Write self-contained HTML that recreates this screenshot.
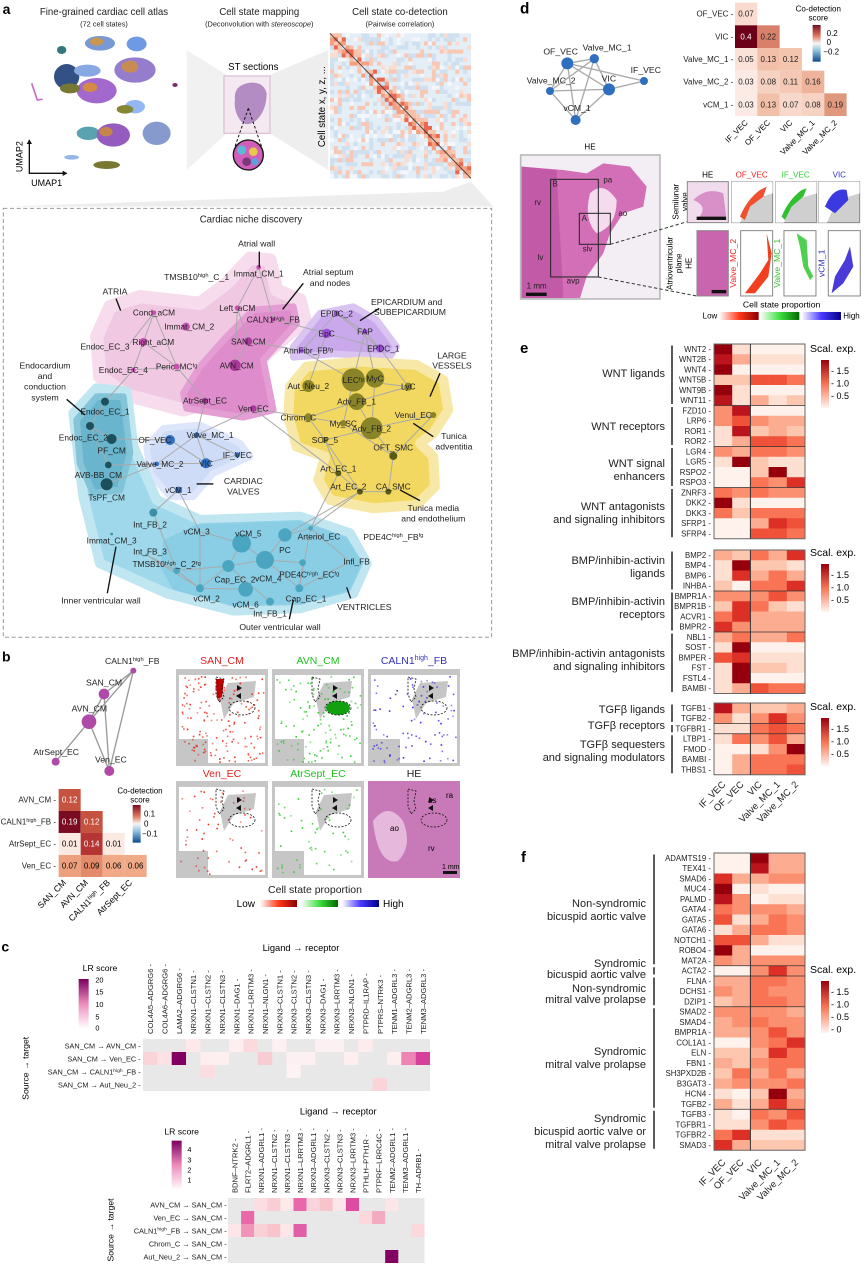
<!DOCTYPE html>
<html><head><meta charset="utf-8"><style>
html,body{margin:0;padding:0;background:#fff}
svg{display:block;font-family:"Liberation Sans",Arial,sans-serif}
</style></head><body>
<svg id="s" width="865" height="1270" viewBox="0 0 865 1270" xmlns="http://www.w3.org/2000/svg">
<rect width="865" height="1270" fill="#fff"/>

<!-- ===== PANEL A TOP ===== -->
<g transform="scale(0.3333)">
  <text x="8" y="42" font-size="42" font-weight="bold">a</text>
  <text x="312" y="45" font-size="29" text-anchor="middle" fill="#222">Fine-grained cardiac cell atlas</text>
  <text x="312" y="80" font-size="22" text-anchor="middle" fill="#222">(72 cell states)</text>
  <text x="778" y="45" font-size="29" text-anchor="middle" fill="#222">Cell state mapping</text>
  <text x="778" y="80" font-size="22" text-anchor="middle" fill="#222">(Deconvolution with <tspan font-style="italic">stereoscope</tspan>)</text>
  <text x="1200" y="45" font-size="29" text-anchor="middle" fill="#222">Cell state co-detection</text>
  <text x="1200" y="80" font-size="22" text-anchor="middle" fill="#222">(Pairwise correlation)</text>
  <g opacity="0.9">
  <ellipse cx="300" cy="130" rx="45" ry="22" fill="#6a8fd0"/><ellipse cx="290" cy="125" rx="20" ry="12" fill="#c58a3a"/>
  <ellipse cx="410" cy="132" rx="30" ry="22" fill="#5f8fe0"/>
  <ellipse cx="185" cy="150" rx="14" ry="12" fill="#1e6a70"/>
  <ellipse cx="405" cy="210" rx="62" ry="38" fill="#8a6fc8"/><ellipse cx="390" cy="200" rx="25" ry="18" fill="#c08040"/>
  <ellipse cx="200" cy="230" rx="38" ry="38" fill="#1d3f78"/>
  <ellipse cx="262" cy="212" rx="40" ry="18" fill="#7aa0e0"/>
  <ellipse cx="290" cy="272" rx="60" ry="38" fill="#9a58c8"/><ellipse cx="270" cy="262" rx="22" ry="14" fill="#d08030"/>
  <ellipse cx="210" cy="265" rx="30" ry="15" fill="#6a6a20"/>
  <ellipse cx="405" cy="320" rx="30" ry="20" fill="#8ab0f0"/>
  <ellipse cx="375" cy="328" rx="25" ry="13" fill="#7a7a22"/>
  <ellipse cx="265" cy="400" rx="35" ry="20" fill="#4a98a8"/>
  <ellipse cx="340" cy="405" rx="50" ry="35" fill="#8a4ab8"/><ellipse cx="318" cy="395" rx="20" ry="14" fill="#c07838"/>
  <ellipse cx="470" cy="400" rx="42" ry="35" fill="#7a90c8"/>
  <ellipse cx="320" cy="495" rx="40" ry="12" fill="#6a6a1c"/>
  <ellipse cx="215" cy="472" rx="22" ry="7" fill="#8ab0e0"/>
  <ellipse cx="525" cy="255" rx="8" ry="6" fill="#6a1a5a"/>
  <path d="M95 250 L112 300 L128 298" stroke="#c060c0" stroke-width="5" fill="none"/>
  </g>
  <path d="M88 420 L88 520 L200 520" stroke="#111" stroke-width="4" fill="none"/>
  <path d="M80 432 L88 418 L96 432 Z M188 512 L202 520 L188 528Z" fill="#111"/>
  <text x="68" y="470" font-size="27" text-anchor="middle" transform="rotate(-90 68 470)">UMAP2</text>
  <text x="140" y="558" font-size="27" text-anchor="middle">UMAP1</text>
  <polygon points="560,150 680,225 680,400 560,510" fill="#f1f1f1"/>
  <polygon points="985,150 810,225 810,400 985,510" fill="#eeeeee"/>
  <rect x="672" y="228" width="138" height="172" fill="#f4e8f1" stroke="#dcc4d6" stroke-width="4"/>
  <path d="M705 300 Q700 260 740 250 Q790 240 800 280 Q800 330 770 360 Q740 385 720 360 Q700 330 705 300Z" fill="#b48cc4"/>
  <text x="760" y="210" font-size="29" text-anchor="middle">ST sections</text>
  <path d="M745 325 L705 440 M745 325 L785 440" stroke="#111" stroke-width="3" stroke-dasharray="8,6"/>
  <circle cx="745" cy="465" r="45" fill="#cf5fb8" stroke="#111" stroke-width="4"/>
  <circle cx="725" cy="450" r="14" fill="#5fb8d8"/><circle cx="760" cy="455" r="13" fill="#e8c84a"/><circle cx="740" cy="485" r="13" fill="#7a3a7a"/><circle cx="765" cy="485" r="11" fill="#5fa0d8"/>
  <rect x="990" y="100" width="423" height="435" fill="#e4eef7"/>
  <g id="corr"></g>
  <line x1="990" y1="100" x2="1413" y2="535" stroke="#444" stroke-width="3"/>
  <text x="975" y="320" font-size="29" text-anchor="middle" transform="rotate(-90 975 320)">Cell state x, y, z, ...</text>
  <polygon points="10,620 1330,575 1413,545 1480,620" fill="#ededed"/>
</g>

<!-- ===== PANEL A NETWORK ===== -->
<g transform="translate(0,180) scale(0.3333)" id="net">
  <rect x="10" y="85" width="1465" height="1287" fill="none" stroke="#999" stroke-width="3" stroke-dasharray="12,8"/>
  <text x="753" y="128" font-size="29" text-anchor="middle" fill="#222">Cardiac niche discovery</text>
  <g stroke-linejoin="round">
  <path d="M290,470 L330,380 L420,350 L600,370 L680,310 L750,235 L810,240 L830,330 L900,360 L915,420 L800,520 L700,650 L550,690 L380,645 L300,590 Z" fill="#f0c8e2" stroke="#f6dcec" stroke-width="40"/>
  <path d="M550,640 L600,560 L680,470 L760,390 L880,380 L890,430 L790,540 L820,690 L730,712 L560,685 Z" fill="#de8ccc" stroke="#e49ed4" stroke-width="20"/>
  <path d="M880,500 L960,400 L1060,380 L1130,420 L1190,500 L1170,530 L1000,522 L880,532 Z" fill="#c9a8ec" stroke="#dac4f2" stroke-width="20"/>
  <path d="M870,620 L920,560 L1080,545 L1250,555 L1330,600 L1345,690 L1300,760 L1260,790 L1300,830 L1305,920 L1250,975 L1120,985 L990,960 L955,900 L975,830 L890,800 L865,710 Z" fill="#f2d860" stroke="#f8e8a8" stroke-width="30"/>
  <path d="M440,800 L490,745 L600,735 L720,790 L750,830 L640,880 L580,950 L510,950 L450,880 Z" fill="#cfdcf8" stroke="#dde6fa" stroke-width="20"/>
  <path d="M220,700 L290,625 L380,635 L400,800 L470,960 L600,1020 L900,1010 L1050,1060 L1100,1150 L1060,1240 L900,1285 L700,1292 L500,1240 L300,1150 L250,950 Z" fill="#9ed8ea" stroke="#c0e6f2" stroke-width="30"/>
  <path d="M230,720 L290,650 L370,650 L390,820 L360,930 L280,940 L240,850 Z" fill="#5fb0c8" stroke="#7cc0d4" stroke-width="20" opacity="0.85"/>
  <path d="M490,1080 L600,1030 L900,1020 L1040,1070 L1090,1150 L1050,1235 L900,1275 L700,1280 L520,1230 L480,1160 Z" fill="#84cce4" opacity="0.8"/>
  </g>
  <g id="edges" stroke="#aaa" stroke-width="3"></g>
  <g id="nodes"></g>
  <g font-size="26" fill="#222" text-anchor="middle">
    <text x="770" y="200">Atrial wall</text><line x1="778" y1="215" x2="778" y2="262" stroke="#111" stroke-width="4"/>
    <text x="590" y="300">TMSB10<tspan font-size="17" dy="-9">high</tspan><tspan dy="9">_C_1</tspan></text>
    <text x="985" y="285">Atrial septum</text><text x="990" y="318">and nodes</text>
    <line x1="910" y1="310" x2="848" y2="388" stroke="#111" stroke-width="4"/>
    <text x="345" y="344">ATRIA</text><line x1="348" y1="356" x2="362" y2="392" stroke="#111" stroke-width="4"/>
    <text x="1220" y="375">EPICARDIUM and</text><text x="1230" y="405">SUBEPICARDIUM</text>
    <line x1="1138" y1="385" x2="1080" y2="422" stroke="#111" stroke-width="4"/>
    <text x="135" y="565">Endocardium</text><text x="135" y="597">and</text><text x="135" y="629">conduction</text><text x="135" y="661">system</text>
    <line x1="200" y1="658" x2="255" y2="705" stroke="#111" stroke-width="4"/>
    <text x="730" y="912">CARDIAC</text><text x="730" y="943">VALVES</text><line x1="590" y1="912" x2="640" y2="912" stroke="#111" stroke-width="4"/>
    <text x="1356" y="536">LARGE</text><text x="1356" y="566">VESSELS</text>
    <line x1="1320" y1="580" x2="1290" y2="650" stroke="#111" stroke-width="4"/>
    <text x="1362" y="777">Tunica</text><text x="1362" y="808">adventitia</text><line x1="1240" y1="730" x2="1300" y2="770" stroke="#111" stroke-width="4"/>
    <text x="1300" y="993">Tunica media</text><text x="1300" y="1025">and endothelium</text><line x1="1200" y1="930" x2="1260" y2="962" stroke="#111" stroke-width="4"/>
    <text x="1180" y="1080">PDE4C<tspan font-size="17" dy="-9">high</tspan><tspan dy="9">_FB</tspan><tspan font-size="17" dy="-9">fg</tspan></text>
    <text x="303" y="1270">Inner ventricular wall</text><line x1="348" y1="1100" x2="322" y2="1240" stroke="#111" stroke-width="4"/>
    <text x="840" y="1350">Outer ventricular wall</text><line x1="880" y1="1260" x2="868" y2="1318" stroke="#111" stroke-width="4"/>
    <text x="1093" y="1290">VENTRICLES</text><line x1="1040" y1="1222" x2="1052" y2="1255" stroke="#111" stroke-width="4"/>
  </g>
</g>

<!-- ===== PANEL B ===== -->
<g transform="translate(0,645) scale(0.3333)">
  <text x="6" y="50" font-size="42" font-weight="bold">b</text>
  <g stroke="#999" stroke-width="4">
    <line x1="400" y1="77" x2="312" y2="147"/><line x1="400" y1="77" x2="267" y2="230"/><line x1="400" y1="77" x2="328" y2="378"/>
    <line x1="312" y1="147" x2="267" y2="230"/><line x1="312" y1="147" x2="328" y2="378"/><line x1="267" y1="230" x2="167" y2="350"/><line x1="267" y1="230" x2="328" y2="378"/>
  </g>
  <g fill="#b04aa8"><circle cx="400" cy="77" r="9"/><circle cx="312" cy="147" r="16"/><circle cx="267" cy="230" r="22"/><circle cx="167" cy="350" r="12"/><circle cx="328" cy="378" r="15"/></g>
  <g font-size="26" fill="#222">
    <text x="315" y="57">CALN1<tspan font-size="17" dy="-9">high</tspan><tspan dy="9">_FB</tspan></text>
    <text x="258" y="122">SAN_CM</text><text x="215" y="200">AVN_CM</text><text x="100" y="330">AtrSept_EC</text><text x="285" y="352">Ven_EC</text>
  </g>
  <rect x="176" y="432" width="66" height="66" fill="#c55340"/>
  <rect x="176" y="498" width="66" height="66" fill="#7a0c22"/><rect x="242" y="498" width="66" height="66" fill="#c55340"/>
  <rect x="176" y="564" width="66" height="66" fill="#fbe9e2"/><rect x="242" y="564" width="66" height="66" fill="#b53535"/><rect x="308" y="564" width="66" height="66" fill="#fbe9e2"/>
  <rect x="176" y="630" width="66" height="66" fill="#eda07e"/><rect x="242" y="630" width="66" height="66" fill="#e48a6a"/><rect x="308" y="630" width="66" height="66" fill="#f0aa88"/><rect x="374" y="630" width="66" height="66" fill="#f0aa88"/>
  <g font-size="24" text-anchor="middle">
    <text x="209" y="473" fill="#fff">0.12</text>
    <text x="209" y="539" fill="#fff">0.19</text><text x="275" y="539" fill="#fff">0.12</text>
    <text x="209" y="605">0.01</text><text x="275" y="605" fill="#fff">0.14</text><text x="341" y="605">0.01</text>
    <text x="209" y="671">0.07</text><text x="275" y="671">0.09</text><text x="341" y="671">0.06</text><text x="407" y="671">0.06</text>
  </g>
  <g font-size="24" text-anchor="end" fill="#222">
    <text x="168" y="473">AVN_CM -</text><text x="168" y="539">CALN1<tspan font-size="16" dy="-8">high</tspan><tspan dy="8">_FB -</tspan></text>
    <text x="168" y="605">AtrSept_EC -</text><text x="168" y="671">Ven_EC -</text>
  </g>
  <text x="420" y="445" font-size="24" text-anchor="middle">Co-detection</text>
  <text x="420" y="472" font-size="24" text-anchor="middle">score</text>
  <defs>
    <linearGradient id="rb" x1="0" y1="0" x2="0" y2="1"><stop offset="0" stop-color="#7a0c22"/><stop offset="0.3" stop-color="#e07860"/><stop offset="0.5" stop-color="#f8f4f2"/><stop offset="0.7" stop-color="#8fc0de"/><stop offset="1" stop-color="#0c4a8a"/></linearGradient>
    <linearGradient id="rd" x1="0" y1="1" x2="0" y2="0"><stop offset="0" stop-color="#fff5f0"/><stop offset="0.5" stop-color="#f87454"/><stop offset="1" stop-color="#9a000d"/></linearGradient>
    <linearGradient id="pk" x1="0" y1="1" x2="0" y2="0"><stop offset="0" stop-color="#fff"/><stop offset="0.5" stop-color="#ee8cbc"/><stop offset="1" stop-color="#7a0060"/></linearGradient>
    <linearGradient id="gr" x1="0" x2="1"><stop offset="0" stop-color="#fff"/><stop offset="0.5" stop-color="#3fe03f"/><stop offset="1" stop-color="#006a00"/></linearGradient>
    <linearGradient id="rr" x1="0" x2="1"><stop offset="0" stop-color="#fff"/><stop offset="0.5" stop-color="#ff3a1a"/><stop offset="1" stop-color="#8a0000"/></linearGradient>
    <linearGradient id="bb" x1="0" x2="1"><stop offset="0" stop-color="#fff"/><stop offset="0.5" stop-color="#4a3aff"/><stop offset="1" stop-color="#00008a"/></linearGradient>
  </defs>
  <rect x="398" y="480" width="24" height="113" fill="url(#rb)"/>
  <g font-size="24"><text x="432" y="515">0.1</text><text x="432" y="545">0</text><text x="426" y="575">−0.1</text></g>
  <g font-size="26" text-anchor="end">
    <text x="200" y="715" transform="rotate(-45 200 715)">SAN_CM</text><text x="266" y="715" transform="rotate(-45 266 715)">AVN_CM</text>
    <text x="332" y="715" transform="rotate(-45 332 715)">CALN1<tspan font-size="17" dy="-9">high</tspan><tspan dy="9">_FB</tspan></text>
    <text x="398" y="715" transform="rotate(-45 398 715)">AtrSept_EC</text>
  </g>
</g>
<g id="spat"></g>
<g font-size="10.5" text-anchor="middle">
  <text x="222" y="664" fill="#e02020">SAN_CM</text><text x="318" y="664" fill="#20c020">AVN_CM</text><text x="414" y="664" fill="#3030c0">CALN1<tspan font-size="7" dy="-4">high</tspan><tspan dy="4">_FB</tspan></text>
  <text x="222" y="777" fill="#e02020">Ven_EC</text><text x="318" y="777" fill="#20c020">AtrSept_EC</text><text x="414" y="777" fill="#222">HE</text>
  <text x="315" y="893" fill="#222">Cell state proportion</text>
</g>
<rect x="260" y="900" width="37" height="7" fill="url(#rr)"/><rect x="301" y="900" width="37" height="7" fill="url(#gr)"/><rect x="342" y="900" width="37" height="7" fill="url(#bb)"/>
<text x="255" y="907" font-size="10" text-anchor="end">Low</text><text x="383" y="907" font-size="10">High</text>

<!-- ===== PANEL C ===== -->
<g transform="translate(0,870) scale(0.3333)">
  <text x="4" y="245" font-size="42" font-weight="bold">c</text>
  <text x="903" y="243" font-size="28" text-anchor="middle">Ligand → receptor</text>
  <text x="300" y="303" font-size="26" text-anchor="middle">LR score</text>
  <rect x="236" y="327" width="30" height="148" fill="url(#pk)"/>
  <g font-size="22"><text x="286" y="337">20</text><text x="286" y="374">15</text><text x="286" y="411">10</text><text x="286" y="448">5</text><text x="286" y="482">0</text></g>
  <text x="85" y="595" font-size="26" text-anchor="middle" transform="rotate(-90 85 595)">Source → target</text>
  <g font-size="22" text-anchor="end" fill="#222">
    <text x="422" y="536">SAN_CM → AVN_CM -</text><text x="422" y="575">SAN_CM → Ven_EC -</text>
    <text x="422" y="614">SAN_CM → CALN1<tspan font-size="15" dy="-8">high</tspan><tspan dy="8">_FB -</tspan></text><text x="422" y="653">SAN_CM → Aut_Neu_2 -</text>
  </g>
  <text x="1015" y="733" font-size="28" text-anchor="middle">Ligand → receptor</text>
  <text x="545" y="793" font-size="26" text-anchor="middle">LR score</text>
  <rect x="515" y="812" width="30" height="148" fill="url(#pk)"/>
  <g font-size="22"><text x="562" y="846">4</text><text x="562" y="877">3</text><text x="562" y="907">2</text><text x="562" y="937">1</text></g>
  <text x="340" y="1080" font-size="26" text-anchor="middle" transform="rotate(-90 340 1080)">Source → target</text>
  <g font-size="22" text-anchor="end" fill="#222">
    <text x="680" y="1012">AVN_CM → SAN_CM -</text><text x="680" y="1051">Ven_EC → SAN_CM -</text>
    <text x="680" y="1090">CALN1<tspan font-size="15" dy="-8">high</tspan><tspan dy="8">_FB → SAN_CM -</tspan></text>
    <text x="680" y="1129">Chrom_C → SAN_CM -</text><text x="680" y="1168">Aut_Neu_2 → SAN_CM -</text>
  </g>
</g>
<g id="lr"></g>

<!-- ===== PANEL D ===== -->
<g transform="translate(430,0) scale(0.3333)">
  <text x="270" y="40" font-size="46" font-weight="bold">d</text>
  <g stroke="#aaa" stroke-width="4">
    <line x1="412" y1="190" x2="493" y2="176"/><line x1="412" y1="190" x2="360" y2="273"/><line x1="412" y1="190" x2="537" y2="268"/><line x1="412" y1="190" x2="437" y2="360"/>
    <line x1="493" y1="176" x2="360" y2="273"/><line x1="493" y1="176" x2="537" y2="268"/><line x1="493" y1="176" x2="437" y2="360"/>
    <line x1="360" y1="273" x2="537" y2="268"/><line x1="360" y1="273" x2="437" y2="360"/><line x1="537" y1="268" x2="437" y2="360"/>
    <line x1="537" y1="268" x2="642" y2="243"/><line x1="412" y1="190" x2="642" y2="243"/>
  </g>
  <g fill="#2f6fc0"><circle cx="412" cy="190" r="18"/><circle cx="493" cy="176" r="14"/><circle cx="642" cy="243" r="12"/><circle cx="360" cy="273" r="12"/><circle cx="537" cy="268" r="18"/><circle cx="437" cy="360" r="15"/></g>
  <g font-size="26" fill="#222"><text x="340" y="163">OF_VEC</text><text x="458" y="152">Valve_MC_1</text><text x="602" y="219">IF_VEC</text><text x="290" y="250">Valve_MC_2</text><text x="515" y="245">VIC</text><text x="400" y="333">vCM_1</text></g>
  <rect x="915" y="8" width="67" height="68" fill="#f9dccf"/>
  <rect x="915" y="76" width="67" height="68" fill="#6b0018"/><rect x="982" y="76" width="67" height="68" fill="#d8806a"/>
  <rect x="915" y="144" width="67" height="68" fill="#fae2d8"/><rect x="982" y="144" width="67" height="68" fill="#f2bfa8"/><rect x="1049" y="144" width="67" height="68" fill="#f3c4ae"/>
  <rect x="915" y="212" width="67" height="68" fill="#fcebe4"/><rect x="982" y="212" width="67" height="68" fill="#f6d2c2"/><rect x="1049" y="212" width="67" height="68" fill="#f4c8b4"/><rect x="1116" y="212" width="67" height="68" fill="#eeb39a"/>
  <rect x="915" y="280" width="67" height="68" fill="#fcebe4"/><rect x="982" y="280" width="67" height="68" fill="#f2bfa8"/><rect x="1049" y="280" width="67" height="68" fill="#f7d8ca"/><rect x="1116" y="280" width="67" height="68" fill="#f6d2c2"/><rect x="1183" y="280" width="67" height="68" fill="#e0987c"/>
  <g font-size="24" text-anchor="middle" fill="#222">
    <text x="948" y="50">0.07</text>
    <text x="948" y="118" fill="#fff">0.4</text><text x="1015" y="118">0.22</text>
    <text x="948" y="186">0.05</text><text x="1015" y="186">0.13</text><text x="1082" y="186">0.12</text>
    <text x="948" y="254">0.03</text><text x="1015" y="254">0.08</text><text x="1082" y="254">0.11</text><text x="1149" y="254">0.16</text>
    <text x="948" y="322">0.03</text><text x="1015" y="322">0.13</text><text x="1082" y="322">0.07</text><text x="1149" y="322">0.08</text><text x="1216" y="322">0.19</text>
  </g>
  <g font-size="24" text-anchor="end" fill="#222"><text x="910" y="50">OF_VEC -</text><text x="910" y="118">VIC -</text><text x="910" y="186">Valve_MC_1 -</text><text x="910" y="254">Valve_MC_2 -</text><text x="910" y="322">vCM_1 -</text></g>
  <g font-size="24" text-anchor="end"><text x="955" y="370" transform="rotate(-45 955 370)">IF_VEC</text><text x="1022" y="370" transform="rotate(-45 1022 370)">OF_VEC</text><text x="1089" y="370" transform="rotate(-45 1089 370)">VIC</text><text x="1156" y="370" transform="rotate(-45 1156 370)">Valve_MC_1</text><text x="1223" y="370" transform="rotate(-45 1223 370)">Valve_MC_2</text></g>
  <text x="1165" y="35" font-size="24" text-anchor="middle">Co-detection</text><text x="1165" y="62" font-size="24" text-anchor="middle">score</text>
  <rect x="1148" y="75" width="24" height="110" fill="url(#rb)"/>
  <g font-size="24"><text x="1190" y="108">0.2</text><text x="1190" y="135">0</text><text x="1180" y="164">−0.2</text></g>
  <text x="480" y="448" font-size="24" text-anchor="middle">HE</text>
  <rect x="272" y="465" width="418" height="432" fill="#f2eef3" stroke="#bbb" stroke-width="5"/>
  <path d="M275 500 L400 510 L470 520 L520 490 L600 500 L650 560 L640 620 L580 640 L540 700 L520 760 L470 830 L450 894 L275 894 Z" fill="#d36fb6"/>
  <path d="M275 500 L380 510 L400 894 L275 894Z" fill="#c35aa8"/>
  <path d="M480 580 Q520 540 560 600 Q560 680 500 700 Q460 660 480 580Z" fill="#f4dcee"/>
  <rect x="362" y="538" width="143" height="293" fill="none" stroke="#222" stroke-width="3"/>
  <rect x="448" y="640" width="93" height="93" fill="none" stroke="#222" stroke-width="3"/>
  <g font-size="24" fill="#222"><text x="520" y="548">pa</text><text x="565" y="648">ao</text><text x="313" y="615">rv</text><text x="323" y="780">lv</text><text x="458" y="755">slv</text><text x="410" y="850">avp</text><text x="367" y="560">B</text><text x="455" y="663">A</text><text x="290" y="865">1 mm</text></g>
  <rect x="288" y="878" width="62" height="10" fill="#111"/>
  <path d="M541 733 L772 665 M505 831 L800 888" stroke="#333" stroke-width="3" stroke-dasharray="10,7"/>
  <g font-size="24" text-anchor="middle"><text x="833" y="532">HE</text><text x="965" y="532" fill="#ee2020">OF_VEC</text><text x="1097" y="532" fill="#30d030">IF_VEC</text><text x="1228" y="532" fill="#3030c0">VIC</text></g>
  <text x="745" y="605" font-size="24" text-anchor="middle" transform="rotate(-90 745 605)">Semilunar</text>
  <text x="772" y="605" font-size="24" text-anchor="middle" transform="rotate(-90 772 605)">valve</text>
  <text x="728" y="790" font-size="24" text-anchor="middle" transform="rotate(-90 728 790)">Atrioventricular</text>
  <text x="755" y="790" font-size="24" text-anchor="middle" transform="rotate(-90 755 790)">plane</text>
  <text x="785" y="790" font-size="24" text-anchor="middle" transform="rotate(-90 785 790)">HE</text>
  <rect x="772" y="545" width="123" height="123" fill="#f0dcec" stroke="#888" stroke-width="3"/>
  <path d="M790 600 Q830 560 880 580 L890 660 L800 660 Q840 620 790 600Z" fill="#d890c8"/>
  <rect x="800" y="650" width="88" height="10" fill="#111"/>
  <rect x="905" y="545" width="123" height="123" fill="#cfcfcf" stroke="#888" stroke-width="3"/>
  <path d="M905 545 L1028 545 L1028 580 L960 600 L930 668 L905 668Z" fill="#fff"/>
  <path d="M930 650 Q950 600 990 570 L1010 560 L1000 590 L960 620 L945 660Z" fill="#f05030"/>
  <rect x="1037" y="545" width="123" height="123" fill="#cfcfcf" stroke="#888" stroke-width="3"/>
  <path d="M1037 545 L1160 545 L1160 580 L1092 600 L1062 668 L1037 668Z" fill="#fff"/>
  <path d="M1055 650 Q1075 600 1115 570 L1130 565 L1120 590 L1085 620 L1065 660Z" fill="#30c030"/>
  <rect x="1166" y="545" width="123" height="123" fill="#cfcfcf" stroke="#888" stroke-width="3"/>
  <path d="M1166 545 L1289 545 L1289 580 L1221 600 L1191 668 L1166 668Z" fill="#fff"/>
  <path d="M1185 620 Q1210 560 1250 570 L1255 600 L1215 640Z" fill="#3a3ae0"/>
  <rect x="801" y="692" width="94" height="196" fill="#c865ae" stroke="#888" stroke-width="3"/>
  <rect x="845" y="870" width="44" height="10" fill="#111"/>
  <rect x="932" y="692" width="96" height="196" fill="#fff" stroke="#888" stroke-width="3"/>
  <path d="M1010 700 L1015 780 L990 820 L960 860 L945 880 L975 880 L1015 830 L1025 760Z" fill="#f04020"/>
  <text x="918" y="790" font-size="26" fill="#ee2020" text-anchor="middle" transform="rotate(-90 918 790)">Valve_MC_2</text>
  <rect x="1062" y="692" width="96" height="196" fill="#fff" stroke="#888" stroke-width="3"/>
  <path d="M1100 700 L1130 720 L1135 800 L1150 830 L1140 840 L1120 800 L1110 740Z" fill="#50d050"/>
  <text x="1050" y="790" font-size="26" fill="#30c030" text-anchor="middle" transform="rotate(-90 1050 790)">Valve_MC_1</text>
  <rect x="1195" y="692" width="96" height="196" fill="#fff" stroke="#888" stroke-width="3"/>
  <path d="M1260 740 L1270 800 L1240 850 L1205 880 L1215 830 L1245 780Z" fill="#4a3ad8"/>
  <text x="1183" y="790" font-size="26" fill="#3030c0" text-anchor="middle" transform="rotate(-90 1183 790)">vCM_1</text>
  <text x="1055" y="922" font-size="26" text-anchor="middle">Cell state proportion</text>
  <text x="840" y="955" font-size="24" text-anchor="middle">Low</text>
  <rect x="868" y="936" width="118" height="24" fill="url(#rr)"/><rect x="990" y="936" width="118" height="24" fill="url(#gr)"/><rect x="1115" y="936" width="118" height="24" fill="url(#bb)"/>
  <text x="1240" y="955" font-size="24">High</text>
</g>

<!-- ===== PANELS E/F ===== -->
<text x="520" y="353" font-size="15" font-weight="bold">e</text>
<text x="521" y="862" font-size="15" font-weight="bold">f</text>
<g id="ef"></g>
<g font-size="11" text-anchor="end" fill="#222">
  <text x="665" y="377">WNT ligands</text>
  <text x="665" y="430">WNT receptors</text>
  <text x="665" y="467">WNT signal</text><text x="665" y="480">enhancers</text>
  <text x="665" y="510">WNT antagonists</text><text x="665" y="523">and signaling inhibitors</text>
  <text x="665" y="564">BMP/inhibin-activin</text><text x="665" y="577">ligands</text>
  <text x="665" y="605">BMP/inhibin-activin</text><text x="665" y="618">receptors</text>
  <text x="665" y="657">BMP/inhibin-activin antagonists</text><text x="665" y="670">and signaling inhibitors</text>
  <text x="665" y="713">TGFβ ligands</text>
  <text x="665" y="729">TGFβ receptors</text>
  <text x="665" y="748">TGFβ sequesters</text><text x="665" y="761">and signaling modulators</text>
  <text x="646" y="907">Non-syndromic</text><text x="646" y="920">bicuspid aortic valve</text>
  <text x="646" y="967">Syndromic</text><text x="646" y="978">bicuspid aortic valve</text>
  <text x="646" y="992">Non-syndromic</text><text x="646" y="1003">mitral valve prolapse</text>
  <text x="646" y="1055">Syndromic</text><text x="646" y="1068">mitral valve prolapse</text>
  <text x="646" y="1122">Syndromic</text><text x="646" y="1135">bicuspid aortic valve or</text><text x="646" y="1148">mitral valve prolapse</text>
</g>
</svg>
<script>
(function(){
var NS="http://www.w3.org/2000/svg";
function el(t,a,p){var e=document.createElementNS(NS,t);for(var k in a)e.setAttribute(k,a[k]);(p||document.getElementById('s')).appendChild(e);return e;}
function txt(t,a,p){var e=el('text',a,p);e.textContent=t;return e;}
var seed=7;function rnd(){seed=(seed*16807)%2147483647;return (seed-1)/2147483646;}
var corr=document.getElementById('corr');var n=36,cs=423/n,chh=435/n;
for(var i=0;i<n;i++)for(var j=0;j<n;j++){var r=rnd();var c=null;
 var d=Math.abs(i-j);
 if(d<3&&rnd()<0.7)c=['#f4a080','#e86850','#f8c0a8'][Math.floor(rnd()*3)];
 else if(r<0.12)c='#f8c8b4';else if(r<0.2)c='#fbdccf';else if(r<0.45)c='#cfe0f0';else if(r<0.55)c='#f3f6fa';
 if(c)el('rect',{x:990+j*cs,y:100+i*chh,width:cs+0.5,height:chh+0.5,fill:c},corr);}
var N=[[776,262,7,'#c94fb5','Immat_CM_1',0,18],[712,384,8,'#c94fb5','Left_aCM',0,0],[462,398,7,'#c94fb5','Cond_aCM',0,0],[558,440,12,'#c94fb5','Immat_CM_2',10,0],
[820,418,6,'#a8399a','CALN1ʰⁱᵍʰ_FB',0,0],[745,484,12,'#a8399a','SAN_CM',0,0],[430,486,12,'#c94fb5','Right_aCM',30,0],[705,556,17,'#a8399a','AVN_CM',5,0],
[400,570,7,'#c94fb5','Endoc_EC_4',-30,0],[530,560,9,'#c94fb5','Peric_MCᶠᵍ',0,0],[615,662,9,'#a8399a','AtrSept_EC',0,0],[760,686,10,'#a8399a','Ven_EC',0,0],
[390,490,0,'#c94fb5','Endoc_EC_3',-75,10],
[1010,400,9,'#9a4fd6','EPDC_2',0,0],[980,460,14,'#9a4fd6','EpC',0,0],[1095,455,8,'#9a4fd6','FAP',0,0],[1140,505,12,'#9a4fd6','EPDC_1',10,0],[905,512,7,'#9a4fd6','AnnFibr_FBᶠᵍ',20,0],
[925,618,18,'#8a8428','Aut_Neu_2',0,0],[1060,600,35,'#8a8428','LECᶠᵍ',0,0],[1125,595,28,'#8a8428','MyC',0,0],[1225,620,12,'#8a8428','LyC',0,0],[1070,665,25,'#8a8428','Adv_FB_1',0,0],
[925,712,12,'#8a8428','Chrom_C',-30,0],[1030,730,10,'#8a8428','My_SC',0,0],[1115,745,33,'#8a8428','Adv_FB_2',0,0],[975,780,9,'#8a8428','SCP_5',0,0],[1300,705,9,'#8a8428','Venul_EC',-60,0],
[1180,828,12,'#5a5a18','OFT_SMC',0,-25],[1015,880,9,'#5a5a18','Art_EC_1',0,-15],[1080,935,9,'#5a5a18','Art_EC_2',-35,-15],[1165,935,9,'#5a5a18','CA_SMC',15,-15],
[315,665,12,'#1d4f5a','Endoc_EC_1',0,30],[270,738,12,'#1d4f5a','Endoc_EC_2',-20,35],[335,777,15,'#1d4f5a','PF_CM',0,35],[325,855,10,'#1d4f5a','AVB-BB_CM',-30,30],[320,913,18,'#1d4f5a','TsPF_CM',0,40],
[510,780,15,'#2e6fc4','OF_VEC',-45,0],[590,765,8,'#2e6fc4','Valve_MC_1',40,0],[712,825,8,'#2e6fc4','IF_VEC',0,0],[470,852,7,'#2e6fc4','Valve_MC_2',10,0],[618,850,15,'#2e6fc4','VIC',0,0],[535,930,10,'#2e6fc4','vCM_1',0,0],
[460,998,12,'#3a8fa8','Int_FB_2',-10,35],[335,1062,4,'#3a8fa8','Immat_CM_3',0,20],[600,1055,0,'#3a8fa8','vCM_3',-10,0],[725,1090,28,'#4aa6c0','vCM_5',20,-30],[855,1065,20,'#4aa6c0','PC',0,45],[932,1045,7,'#4aa6c0','Arteriol_EC',25,25],
[795,1140,27,'#4aa6c0','vCM_4',10,55],[685,1158,18,'#4aa6c0','Cap_EC_2',20,40],[908,1148,10,'#4aa6c0','PDE4Cʰⁱᵍʰ_ECᶠᵍ',20,35],[530,1172,10,'#4aa6c0','TMSB10ʰⁱᵍʰ_C_2ᶠᵍ',-30,-20],[600,1225,12,'#4aa6c0','vCM_2',20,30],
[737,1228,22,'#4aa6c0','vCM_6',0,45],[898,1225,12,'#4aa6c0','Cap_EC_1',20,30],[810,1265,12,'#4aa6c0','Int_FB_1',0,35],[440,1125,4,'#4aa6c0','Int_FB_3',10,-10],[1050,1145,0,'#4aa6c0','Infl_FB',20,0]];
var eg=document.getElementById('edges'),ng=document.getElementById('nodes');
for(var i=0;i<N.length;i++)for(var j=i+1;j<N.length;j++){var dx=N[i][0]-N[j][0],dy=N[i][1]-N[j][1];var dd=Math.sqrt(dx*dx+dy*dy);
 if(dd<190&&rnd()<0.55)el('line',{x1:N[i][0],y1:N[i][1],x2:N[j][0],y2:N[j][1]},eg);}
el('line',{x1:760,y1:686,x2:1015,y2:880},eg);el('line',{x1:535,y1:930,x2:460,y2:998},eg);el('line',{x1:855,y1:1065,x2:1080,y2:935},eg);
N.forEach(function(d){if(d[2]>0)el('circle',{cx:d[0],cy:d[1],r:d[2],fill:d[3]},ng);
 txt(d[4],{x:d[0]+d[5],y:d[1]+d[6]+9,'font-size':25,'text-anchor':'middle',fill:'#222'},ng);});
var sp=document.getElementById('spat');
var cols=['#e8281a','#22c822','#3a2ae8'];
[[176,669,0],[272,669,1],[368,669,2],[176,781,0],[272,781,1],[368,781,3]].forEach(function(p,k){
 var x=p[0],y=p[1],w=92,h=97;
 el('rect',{x:x,y:y,width:w,height:h,fill:'#c6c6c6'},sp);
 if(p[2]==3){el('rect',{x:x,y:y,width:w,height:h,fill:'#c87ab8'},sp);
  el('path',{d:'M'+(x+5)+' '+(y+40)+' q15 -20 30 0 q10 25 -5 40 q-20 5 -25 -40z',fill:'#e6b8dc'},sp);
  txt('ao',{x:x+22,y:y+50,'font-size':8},sp);txt('rv',{x:x+60,y:y+70,'font-size':8},sp);txt('as',{x:x+60,y:y+22,'font-size':8},sp);txt('ra',{x:x+78,y:y+17,'font-size':8},sp);
  el('rect',{x:x+75,y:y+90,width:14,height:3,fill:'#111'},sp);txt('1 mm',{x:x+74,y:y+88,'font-size':7},sp);
 } else {
  el('path',{d:'M'+(x+3)+' '+(y+6)+' L'+(x+89)+' '+(y+6)+' L'+(x+89)+' '+(y+94)+' L'+(x+32)+' '+(y+94)+' L'+(x+32)+' '+(y+70)+' L'+(x+3)+' '+(y+70)+' Z',fill:'#fff'},sp);
  el('path',{d:'M'+(x+52)+' '+(y+14)+' L'+(x+80)+' '+(y+12)+' L'+(x+78)+' '+(y+28)+' L'+(x+58)+' '+(y+34)+' L'+(x+48)+' '+(y+50)+' L'+(x+44)+' '+(y+30)+' Z',fill:'#c6c6c6'},sp);
  var c=cols[p[2]];var m=[160,120,90,60,50][k]||80;
  for(var q=0;q<m;q++){el('rect',{x:x+4+rnd()*84,y:y+7+rnd()*86,width:1.6,height:1.6,fill:c,opacity:0.5+rnd()*0.5},sp);}
  if(k==0)el('path',{d:'M'+(x+40)+' '+(y+10)+' l8 0 l-2 18 l-5 2z',fill:'#c00000'},sp);
  if(k==1)el('ellipse',{cx:x+66,cy:y+39,rx:12,ry:7,fill:'#10a010'},sp);
 }
 el('path',{d:'M'+(x+40)+' '+(y+8)+' l8 2 l-2 10 l2 8 l-5 5 l-3 -8 z',fill:'none',stroke:'#111','stroke-width':0.8,'stroke-dasharray':'2,1.5'},sp);
 el('ellipse',{cx:x+66,cy:y+39,rx:13,ry:7,fill:'none',stroke:'#111','stroke-width':0.8,'stroke-dasharray':'2,1.5'},sp);
 el('path',{d:'M'+(x+61)+' '+(y+16)+' l5 3 l-5 3z M'+(x+65)+' '+(y+24)+' l-5 3 l5 3z',fill:'#111'},sp);
});
var lr=document.getElementById('lr');
function lrmap(x0,y0,cw,rh,nr,nc,cells,labels){
 el('rect',{x:x0,y:y0,width:cw*nc,height:rh*nr,fill:'#e8e8e8'},lr);
 cells.forEach(function(c){el('rect',{x:x0+c[1]*cw,y:y0+c[0]*rh,width:cw,height:rh,fill:c[2]},lr);});
 labels.forEach(function(l,i){var cx=x0+(i+0.5)*cw+3,yy=y0-5;txt(l+' -',{x:cx,y:yy,'font-size':7.6,'text-anchor':'start',transform:'rotate(-90 '+cx+' '+yy+')',fill:'#222'},lr);});
}
var L1=['COL4A5–ADGRG6','COL4A6–ADGRG6','LAMA2–ADGRG6','NRXN1–CLSTN1','NRXN1–CLSTN2','NRXN1–CLSTN3','NRXN1–DAG1','NRXN1–LRRTM3','NRXN1–NLGN1','NRXN3–CLSTN1','NRXN3–CLSTN2','NRXN3–CLSTN3','NRXN3–DAG1','NRXN3–LRRTM3','NRXN3–NLGN1','PTPRD–IL1RAP','PTPRS–NTRK3','TENM1–ADGRL3','TENM2–ADGRL3','TENM3–ADGRL3'];
lrmap(143,1039,14.35,13,4,20,[[0,3,'#fde8ea'],[0,6,'#fdeef0'],[0,7,'#fbdade'],[0,9,'#fdf0f2'],[0,12,'#fdf0f2'],[0,13,'#fdf0f2'],[0,15,'#fdecee'],
[1,0,'#f9d4d8'],[1,1,'#fbe2e4'],[1,2,'#820062'],[1,4,'#fdeef0'],[1,5,'#fdeef0'],[1,8,'#f8ccd2'],[1,10,'#fdf0f2'],[1,11,'#fdf0f2'],[1,14,'#fdeef0'],[1,17,'#fdeef0'],[1,18,'#ee84b4'],[1,19,'#d6409a'],
[2,4,'#fbdde0'],[2,10,'#fdf2f4'],[3,16,'#fad4d8']],L1);
var L2=['BDNF–NTRK2','FLRT2–ADGRL1','NRXN1–ADGRL1','NRXN1–CLSTN2','NRXN1–CLSTN3','NRXN1–LRRTM3','NRXN3–ADGRL1','NRXN3–CLSTN2','NRXN3–CLSTN3','NRXN3–LRRTM3','PTHLH–PTH1R','PTPRF–LRRC4C','TENM2–ADGRL1','TENM3–ADGRL1','TH–ADRB1'];
lrmap(228,1198,13.1,13,5,15,[[0,2,'#fbdde2'],[0,3,'#f9cdd4'],[0,4,'#fde8ea'],[0,5,'#e868aa'],[0,6,'#fad4da'],[0,7,'#f8c4cc'],[0,8,'#fde6ea'],[0,9,'#dc4ca0'],[0,12,'#fde6ea'],
[1,1,'#e868aa'],[1,10,'#fbd8dc'],[1,11,'#f4aac0'],[2,0,'#fde6ea'],[2,1,'#f094bc'],[2,2,'#f9d0d6'],[2,3,'#f8c4cc'],[2,4,'#fde6ea'],[2,5,'#e060a8'],[2,14,'#fbd8dc'],[4,12,'#820062']],L2);
var ef=document.getElementById('ef');
var P=['#fff2ec','#fee0d2','#fcc6af','#fcad91','#fb9070','#f87454','#ef5238','#dc2f26','#bc141c','#96000d'];
function hm(y0,names,vals,divs,lx){
 var x0=714,cw=18.2,rh=10.25,n=names.length;
 names.forEach(function(nm,i){vals[i].forEach(function(v,j){el('rect',{x:x0+j*cw,y:y0+i*rh,width:cw+0.3,height:rh+0.3,fill:P[v]},ef);});
  txt(nm+' -',{x:711,y:y0+i*rh+7.8,'font-size':7.8,'text-anchor':'end',fill:'#222'},ef);});
 el('rect',{x:x0,y:y0,width:cw*5,height:rh*n,fill:'none',stroke:'#666','stroke-width':1},ef);
 el('line',{x1:x0+2*cw,y1:y0,x2:x0+2*cw,y2:y0+rh*n,stroke:'#333','stroke-width':1},ef);
 var prev=0;divs.concat([n]).forEach(function(d){
  if(d<n)el('line',{x1:x0,y1:y0+d*rh,x2:x0+cw*5,y2:y0+d*rh,stroke:'#333','stroke-width':0.8},ef);
  el('line',{x1:lx,y1:y0+prev*rh+1.5,x2:lx,y2:y0+d*rh-1.5,stroke:'#222','stroke-width':1.5},ef);prev=d;});
}
function legend(y,ticks){txt('Scal. exp.',{x:810,y:y,'font-size':10.5},ef);el('rect',{x:821,y:y+8,width:8,height:ticks?52:48,fill:'url(#rd)'},ef);
 var t=ticks||['1.5','1.0','0.5'];t.forEach(function(s,i){txt('- '+s,{x:831,y:y+22+i*12.5,'font-size':9},ef);});}
function colLabels(y){['IF_VEC','OF_VEC','VIC','Valve_MC_1','Valve_MC_2'].forEach(function(s,j){var cx=714+(j+0.5)*18.2+3,yy=y;
 txt(s,{x:cx,y:yy,'font-size':9.5,'text-anchor':'end',transform:'rotate(-45 '+cx+' '+yy+')',fill:'#222'},ef);});}
hm(344,['WNT2','WNT2B','WNT4','WNT5B','WNT9B','WNT11','FZD10','LRP6','ROR1','ROR2','LGR4','LGR5','RSPO2','RSPO3','ZNRF3','DKK2','DKK3','SFRP1','SFRP4'],
[[9,1,0,0,0],[8,3,1,1,1],[9,0,0,0,0],[2,2,6,6,5],[9,1,0,0,0],[8,1,3,1,2],[4,8,0,0,0],[4,6,4,3,3],[1,8,2,3,2],[1,3,6,6,5],[4,3,5,5,4],[1,9,2,1,1],[0,0,2,9,1],[0,0,5,4,7],[5,4,5,4,4],[9,1,0,0,0],[5,2,5,5,5],[0,0,3,7,6],[0,0,6,6,5]],[6,10,14],672);
hm(550,['BMP2','BMP4','BMP6','INHBA','BMPR1A','BMPR1B','ACVR1','BMPR2','NBL1','SOST','BMPER','FST','FSTL4','BAMBI'],
[[3,2,5,3,7],[1,9,2,2,1],[1,7,3,5,3],[2,0,5,5,7],[4,4,4,6,4],[2,7,5,2,1],[5,7,3,3,3],[7,4,3,3,3],[3,5,3,3,5],[1,9,0,0,0],[6,7,1,1,1],[1,9,2,2,1],[1,9,0,0,0],[1,3,6,5,5]],[4,8],672);
hm(703,['TGFB1','TGFB2','TGFBR1','LTBP1','FMOD','BAMBI','THBS1'],
[[8,3,2,2,3],[4,1,4,7,4],[1,1,5,6,5],[1,5,4,6,3],[0,0,1,4,9],[0,3,5,5,5],[0,3,5,5,6]],[2,3],672);
hm(853,['ADAMTS19','TEX41','SMAD6','MUC4','PALMD','GATA4','GATA5','GATA6','NOTCH1','ROBO4','MAT2A','ACTA2','FLNA','DCHS1','DZIP1','SMAD2','SMAD4','BMPR1A','COL1A1','ELN','FBN1','SH3PXD2B','B3GAT3','HCN4','TGFB2','TGFB3','TGFBR1','TGFBR2','SMAD3'],
[[0,0,9,3,3],[0,0,8,3,3],[7,3,3,4,4],[9,0,1,0,0],[8,4,0,1,1],[5,4,4,4,3],[6,1,3,5,4],[1,3,5,5,4],[6,6,3,1,1],[9,3,0,0,0],[4,3,4,4,4],[0,0,4,7,4],[3,3,5,5,4],[4,3,5,4,4],[2,3,5,5,4],[4,4,4,4,3],[3,4,5,4,4],[3,3,4,6,4],[0,0,4,5,7],[2,2,3,7,5],[3,2,4,5,5],[2,5,3,5,3],[3,4,4,4,5],[1,0,2,9,3],[3,1,3,7,4],[1,0,5,4,6],[1,1,4,6,5],[5,7,1,1,1],[7,3,2,2,2]],[11,12,15,25],654);
legend(352);legend(556);legend(710);legend(973,['1.5','1.0','0.5','0']);
colLabels(785);colLabels(1163);
})();
</script>
</body></html>
